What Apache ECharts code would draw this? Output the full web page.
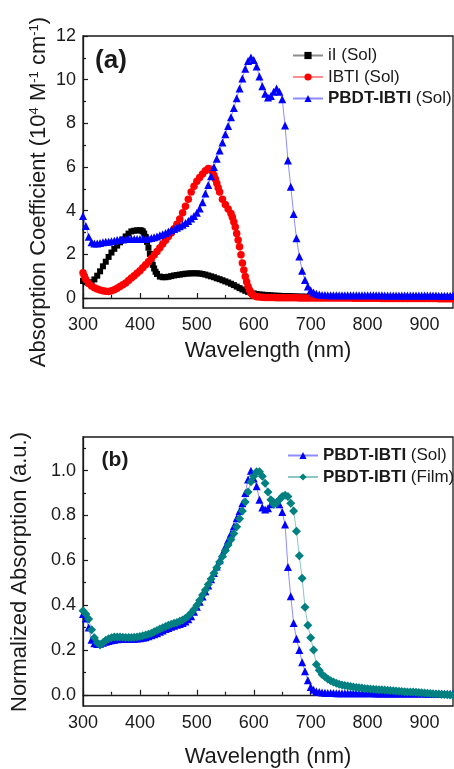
<!DOCTYPE html>
<html>
<head>
<meta charset="utf-8">
<script src="https://cdn.jsdelivr.net/npm/echarts@6/dist/echarts.min.js"></script>
<style>
html,body{margin:0;padding:0;background:#fff;}
#chart{width:454px;height:769px;}
</style>
</head>
<body>
<div id="chart"></div>
<script>
// ---------------- DATA ----------------
const wavelength = [
300,305,310,315,320,325,330,335,340,345,
350,355,360,365,370,375,380,385,390,395,
400,405,410,415,420,425,430,435,440,445,
450,455,460,465,470,475,480,485,490,495,
500,505,510,515,520,525,530,535,540,545,
550,555,560,565,570,575,580,585,590,595,
600,605,610,615,620,625,630,635,640,645,
650,655,660,665,670,675,680,685,690,695,
700,705,710,715,720,725,730,735,740,745,
750,755,760,765,770,775,780,785,790,795,
800,805,810,815,820,825,830,835,840,845,
850,855,860,865,870,875,880,885,890,895,
900,905,910,915,920,925,930,935,940,945,
950];

// (a) absorption coefficient, 10^4 M^-1 cm^-1
const iISol = [
0.78,0.72,0.68,0.72,0.85,1.02,1.22,1.45,1.66,1.88,
2.08,2.25,2.40,2.55,2.68,2.82,2.95,3.05,3.08,3.10,
3.10,3.05,2.80,2.30,1.75,1.35,1.10,0.98,0.95,0.95,
0.97,1.00,1.03,1.05,1.07,1.09,1.11,1.12,1.13,1.13,
1.13,1.12,1.10,1.07,1.03,0.99,0.95,0.90,0.86,0.81,
0.76,0.71,0.65,0.59,0.52,0.45,0.39,0.33,0.28,0.24,
0.21,0.18,0.16,0.15,0.14,0.13,0.12,0.11,0.10,0.10,
0.09,0.09,0.08,0.08,0.07,0.07,0.06,0.06,0.06,0.05,
0.05,0.05,0.05,0.05,0.05,0.05,0.05,0.05,0.05,0.05,
0.05,0.05,0.05,0.04,0.04,0.04,0.04,0.04,0.04,0.04,
0.04,0.04,0.04,0.04,0.04,0.04,0.04,0.04,0.04,0.04,
0.04,0.04,0.03,0.03,0.03,0.03,0.03,0.03,0.03,0.03,
0.03,0.03,0.03,0.03,0.03,0.03,0.03,0.03,0.03,0.03,
0.03];
// extra readings on the steep fall of iI
const iIExtraWl = [402.5,407.5,412.5,417.5,422.5,427.5];
const iIExtra   = [3.09,2.95,2.57,2.02,1.52,1.20];

const ibtiSol = [
1.15,0.85,0.66,0.55,0.47,0.41,0.36,0.33,0.31,0.30,
0.33,0.38,0.45,0.52,0.60,0.69,0.80,0.91,1.02,1.13,
1.25,1.38,1.52,1.66,1.81,1.97,2.13,2.30,2.47,2.64,
2.81,2.98,3.17,3.38,3.62,3.90,4.20,4.52,4.85,5.12,
5.35,5.52,5.68,5.83,5.93,5.90,5.62,5.25,4.85,4.52,
4.28,4.08,3.87,3.48,2.95,2.35,1.60,0.98,0.52,0.24,
0.11,0.06,0.04,0.03,0.02,0.02,0.02,0.02,0.01,0.01,
0.01,0.01,0.01,0.01,0.01,0.01,0.00,0.00,0.00,0.00,
0.00,0.00,0.00,0.00,0.00,0.00,0.00,0.00,0.00,0.00,
0.00,0.00,0.00,0.00,0.00,-0.01,-0.01,-0.01,-0.01,-0.01,
-0.01,-0.01,-0.01,-0.01,-0.01,-0.02,-0.02,-0.02,-0.02,-0.02,
-0.02,-0.02,-0.02,-0.02,-0.02,-0.03,-0.03,-0.03,-0.03,-0.03,
-0.03,-0.03,-0.03,-0.03,-0.03,-0.04,-0.04,-0.04,-0.04,-0.04,
-0.04];
// extra readings on the steep parts of IBTI
const ibtiExtraWl = [302.5,527.5,532.5,537.5,562.5,567.5,572.5,577.5,582.5,587.5,592.5,597.5];
const ibtiExtra   = [1.00,5.78,5.45,5.05,3.70,3.25,2.66,1.98,1.28,0.74,0.36,0.16];

const pbdtSolAbs = [
3.75,3.30,2.80,2.55,2.50,2.50,2.52,2.55,2.57,2.58,
2.60,2.62,2.65,2.67,2.68,2.70,2.70,2.70,2.70,2.70,
2.70,2.70,2.70,2.72,2.75,2.78,2.82,2.87,2.92,2.98,
3.05,3.10,3.16,3.22,3.28,3.35,3.43,3.52,3.64,3.76,
3.90,4.10,4.38,4.78,5.18,5.57,6.00,6.38,6.75,7.12,
7.50,7.88,8.28,8.70,9.15,9.60,10.05,10.50,10.85,11.02,
10.90,10.60,10.15,9.70,9.35,9.18,9.25,9.45,9.60,9.45,
9.10,7.90,6.30,5.10,3.85,2.74,1.90,1.25,0.82,0.52,
0.35,0.25,0.19,0.16,0.14,0.13,0.12,0.12,0.12,0.12,
0.12,0.12,0.12,0.12,0.12,0.12,0.12,0.12,0.12,0.12,
0.12,0.12,0.12,0.12,0.12,0.12,0.11,0.11,0.11,0.11,
0.11,0.11,0.11,0.11,0.11,0.11,0.11,0.11,0.11,0.11,
0.11,0.11,0.11,0.11,0.11,0.10,0.10,0.10,0.10,0.10,
0.10];

// (b) normalized absorption
const pbdtSolNorm = [
0.360,0.340,0.300,0.245,0.230,0.227,0.228,0.232,0.237,0.240,
0.243,0.246,0.248,0.250,0.250,0.250,0.250,0.250,0.250,0.251,
0.252,0.254,0.257,0.261,0.266,0.270,0.275,0.281,0.287,0.293,
0.298,0.303,0.308,0.312,0.316,0.320,0.327,0.337,0.350,0.370,
0.393,0.415,0.438,0.462,0.488,0.515,0.543,0.572,0.600,0.630,
0.660,0.690,0.720,0.752,0.787,0.820,0.855,0.900,0.960,1.000,
0.965,0.930,0.870,0.835,0.827,0.832,0.850,0.862,0.860,0.850,
0.815,0.760,0.570,0.440,0.320,0.250,0.200,0.145,0.105,0.065,
0.035,0.022,0.015,0.012,0.010,0.009,0.008,0.008,0.008,0.007,
0.007,0.007,0.007,0.007,0.007,0.007,0.007,0.007,0.007,0.007,
0.007,0.007,0.007,0.006,0.006,0.006,0.006,0.006,0.006,0.006,
0.006,0.006,0.006,0.006,0.006,0.006,0.006,0.006,0.006,0.006,
0.006,0.005,0.005,0.005,0.005,0.005,0.005,0.005,0.005,0.005,
0.005];

const pbdtFilmNorm = [
0.375,0.360,0.338,0.290,0.255,0.232,0.222,0.232,0.243,0.250,
0.255,0.258,0.258,0.258,0.257,0.256,0.256,0.256,0.257,0.258,
0.260,0.263,0.267,0.270,0.275,0.281,0.287,0.293,0.299,0.305,
0.310,0.315,0.319,0.323,0.328,0.334,0.342,0.352,0.365,0.380,
0.400,0.422,0.445,0.468,0.492,0.517,0.542,0.567,0.592,0.617,
0.643,0.668,0.693,0.720,0.750,0.785,0.820,0.860,0.905,0.950,
0.975,0.995,0.995,0.975,0.944,0.905,0.870,0.850,0.855,0.870,
0.885,0.890,0.885,0.855,0.820,0.730,0.620,0.520,0.390,0.310,
0.255,0.200,0.135,0.110,0.090,0.080,0.070,0.063,0.057,0.052,
0.047,0.044,0.041,0.039,0.037,0.035,0.033,0.031,0.030,0.028,
0.027,0.026,0.025,0.024,0.023,0.022,0.021,0.020,0.019,0.018,
0.017,0.016,0.015,0.014,0.013,0.013,0.012,0.011,0.010,0.009,
0.008,0.007,0.006,0.005,0.004,0.003,0.002,0.001,0.000,-0.001,
-0.002];

const xTicks = [300,400,500,600,700,800,900];
const xMinorTicks = [350,450,550,650,750,850];
const yTicksA = [0,2,4,6,8,10,12];
const yMinorTicksA = [1,3,5,7,9,11];
const yTicksB = [0,0.2,0.4,0.6,0.8,1.0];
const yMinorTicksB = [0.1,0.3,0.5,0.7,0.9,1.1];

const namesA = ['iI (Sol)','IBTI (Sol)','PBDT-IBTI (Sol)'];
const namesB = ['PBDT-IBTI (Sol)','PBDT-IBTI (Film)'];

// ---------------- CHART ----------------
const FONT = '"Liberation Sans", Arial, sans-serif';
const INK = '#1a1a1a';
function pair(ys, exWl, exYs){
  const pts = wavelength.map((x,i)=>[x, ys[i]]);
  if (exWl) exWl.forEach((x,i)=>pts.push([x, exYs[i]]));
  pts.sort((a,b)=>a[0]-b[0]);
  return pts;
}

function mainX(grid, nameGap){
  return {
    type:'value', gridIndex:grid, min:300, max:950,
    name:'Wavelength (nm)', nameLocation:'middle', nameGap:nameGap,
    nameTextStyle:{fontFamily:FONT, fontSize:22, color:INK},
    axisLine:{show:true, lineStyle:{color:INK, width:1.3}},
    axisTick:{show:true, inside:true, length:5, customValues:xTicks, lineStyle:{color:INK, width:1.2}},
    axisLabel:{show:true, customValues:xTicks, margin:8, fontFamily:FONT, fontSize:18, color:INK},
    splitLine:{show:false}
  };
}
function minorX(grid){
  return {
    type:'value', gridIndex:grid, min:300, max:950, position:'bottom',
    axisLine:{show:false},
    axisTick:{show:true, inside:true, length:3, customValues:xMinorTicks, lineStyle:{color:INK, width:1.2}},
    axisLabel:{show:false}, splitLine:{show:false}
  };
}
function mainY(grid, min, max, ticks, fmt){
  return {
    type:'value', gridIndex:grid, min:min, max:max, position:'left',
    axisLine:{show:true, onZero:false, lineStyle:{color:INK, width:1.3}},
    axisTick:{show:true, inside:true, length:5, customValues:ticks, lineStyle:{color:INK, width:1.2}},
    axisLabel:{show:true, customValues:ticks, margin:7, fontFamily:FONT, fontSize:18, color:INK, formatter:fmt},
    splitLine:{show:false}
  };
}
function minorY(grid, min, max, ticks){
  return {
    type:'value', gridIndex:grid, min:min, max:max, position:'left', offset:0,
    axisLine:{show:false},
    axisTick:{show:true, inside:true, length:3, customValues:ticks, lineStyle:{color:INK, width:1.2}},
    axisLabel:{show:false}, splitLine:{show:false}
  };
}
function legendFmt(name){
  if (name.indexOf('PBDT-IBTI') === 0) return '{b|PBDT-IBTI}' + name.slice(9);
  return name;
}
function lineSeries(name, xi, yi, data, symbol, size, color){
  return {
    name:name, type:'line', xAxisIndex:xi, yAxisIndex:yi, data:data,
    symbol:symbol, symbolSize:size, showSymbol:true,
    itemStyle:{color:color},
    lineStyle:{color:color, width:1, opacity:0.45},
    emphasis:{disabled:true}, animation:false
  };
}
const legendText = {fontFamily:FONT, fontSize:17, color:INK, lineHeight:17,
  rich:{b:{fontFamily:FONT, fontSize:17, fontWeight:'bold', color:INK, lineHeight:17}}};

const chart = echarts.init(document.getElementById('chart'), null, {renderer:'canvas'});
chart.setOption({
  backgroundColor:'#ffffff',
  animation:false,
  grid:[
    {left:83, top:36, width:370, height:272, show:true, borderColor:INK, borderWidth:1.3, backgroundColor:'transparent'},
    {left:83, top:437, width:370, height:270, show:true, borderColor:INK, borderWidth:1.3, backgroundColor:'transparent'}
  ],
  xAxis:[ mainX(0, 32), minorX(0), mainX(1, 40), minorX(1) ],
  yAxis:[
    mainY(0, -0.46, 12, yTicksA, v => String(v)),
    minorY(0, -0.46, 12, yMinorTicksA),
    mainY(1, -0.05, 1.15, yTicksB, v => v.toFixed(1)),
    minorY(1, -0.05, 1.15, yMinorTicksB)
  ],
  legend:[
    {data:namesA, orient:'vertical', left:292, top:47, padding:0, itemWidth:30, itemHeight:9, itemGap:4.5,
     formatter:legendFmt, selectedMode:false, textStyle:legendText},
    {data:namesB, orient:'vertical', left:287, top:447, padding:0, itemWidth:30, itemHeight:9, itemGap:4.5,
     formatter:legendFmt, selectedMode:false, textStyle:legendText}
  ],
  series:[
    lineSeries('iI (Sol)', 0, 0, pair(iISol, iIExtraWl, iIExtra), 'rect', 6, '#000000'),
    lineSeries('IBTI (Sol)', 0, 0, pair(ibtiSol, ibtiExtraWl, ibtiExtra), 'circle', 7.5, '#ff0000'),
    lineSeries('PBDT-IBTI (Sol)', 0, 0, pair(pbdtSolAbs), 'triangle', 8, '#0000ff'),
    lineSeries('PBDT-IBTI (Sol)', 2, 2, pair(pbdtSolNorm), 'triangle', 8, '#0000ff'),
    lineSeries('PBDT-IBTI (Film)', 2, 2, pair(pbdtFilmNorm), 'diamond', 9, '#008080')
  ],
  graphic:[
    {type:'text', x:111, y:61, silent:true,
     style:{text:'(a)', fontFamily:FONT, fontSize:26, fontWeight:'bold', fill:INK, align:'center', verticalAlign:'middle'}},
    {type:'text', x:115, y:460, silent:true,
     style:{text:'(b)', fontFamily:FONT, fontSize:21, fontWeight:'bold', fill:INK, align:'center', verticalAlign:'middle'}},
    {type:'text', x:39, y:192, rotation:Math.PI/2, silent:true,
     style:{text:'Absorption Coefficient (10{sup|4} M{sup|-1} cm{sup|-1})',
            fontFamily:FONT, fontSize:22, fill:INK, align:'center', verticalAlign:'middle',
            rich:{sup:{fontFamily:FONT, fontSize:13, fill:INK, verticalAlign:'top', lineHeight:22}}}},
    {type:'text', x:20, y:572, rotation:Math.PI/2, silent:true,
     style:{text:'Normalized Absorption (a.u.)', fontFamily:FONT, fontSize:22, fill:INK, align:'center', verticalAlign:'middle'}}
  ]
});
</script>
</body>
</html>
